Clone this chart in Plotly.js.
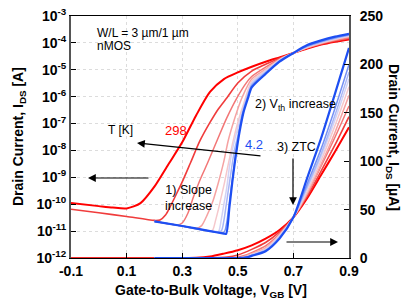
<!DOCTYPE html>
<html><head><meta charset="utf-8">
<script src="https://cdn.plot.ly/plotly-3.0.1.min.js"></script>
<style>html,body{margin:0;padding:0;background:#fff}#c{width:415px;height:307px}</style>
</head><body><div id="c"></div>
<script>
// Temperatures [K]
const temps = ['298','200','150','100','77','50','25','10','4.2'];
// Gate voltage [V] and drain current [A] per temperature
const V298 = [-0.1,0,0.05,0.1,0.15,0.2,0.25,0.3,0.35,0.4,0.45,0.5,0.55,0.6,0.65,0.7,0.75,0.8,0.85,0.9];
const I298 = [1.1e-10,8.5e-11,7.5e-11,7e-11,1.1e-10,4.5e-10,3e-9,2e-8,2e-7,1.5e-6,4.5e-6,8e-6,1.3e-5,2e-5,2.9e-5,4.2e-5,6.2e-5,8.6e-5,1.1e-4,1.35e-4];
const V200 = [-0.1,0,0.1,0.2,0.22,0.24,0.256,0.28,0.303,0.33,0.364,0.4,0.43,0.461,0.5,0.55,0.6,0.65,0.7,0.75,0.8,0.85,0.9];
const I200 = [6.5e-11,4.8e-11,3.5e-11,2.5e-11,2.6e-11,4e-11,7.8e-11,2.5e-10,7.9e-10,3.5e-9,2.3e-8,1.1e-7,3.5e-7,9.1e-7,3.2e-6,8.9e-6,1.6e-5,2.7e-5,4.2e-5,6.4e-5,9e-5,1.17e-4,1.46e-4];
const V150 = [0.2,0.28,0.3,0.32,0.34,0.364,0.39,0.425,0.46,0.497,0.53,0.55,0.6,0.65,0.7,0.75,0.8,0.85,0.9];
const I150 = [2.3e-11,1.7e-11,2e-11,4.5e-11,1.8e-10,8e-10,3.2e-9,2.3e-8,1.6e-7,9.1e-7,3.2e-6,5.6e-6,1.25e-5,2.5e-5,4.2e-5,6.6e-5,9.5e-5,1.25e-4,1.57e-4];
const V100 = [0.2,0.3,0.35,0.37,0.39,0.41,0.43,0.45,0.465,0.48,0.5,0.515,0.55,0.6,0.65,0.7,0.75,0.8,0.85,0.9];
const I100 = [2.3e-11,1.55e-11,1.26e-11,1.6e-11,4e-11,1.26e-10,6.3e-10,4e-9,2.2e-8,7.9e-8,3.5e-7,9.1e-7,4.5e-6,1.05e-5,2.4e-5,4.2e-5,6.7e-5,9.7e-5,1.3e-4,1.68e-4];
const V77 = [0.2,0.3,0.4,0.41,0.42,0.43,0.44,0.45,0.46,0.47,0.48,0.5,0.52,0.55,0.6,0.65,0.7,0.75,0.8,0.85,0.9];
const I77 = [2.3e-11,1.55e-11,1.0e-11,1.1e-11,2.5e-11,6.3e-11,1.8e-10,5e-10,1.6e-9,5e-9,1.6e-8,1.1e-7,5e-7,3.8e-6,9.5e-6,2.35e-5,4.2e-5,6.9e-5,1.01e-4,1.37e-4,1.77e-4];
const V50 = [0.2,0.3,0.4,0.43,0.44,0.45,0.46,0.47,0.48,0.49,0.5,0.52,0.53,0.55,0.6,0.65,0.7,0.75,0.8,0.85,0.9];
const I50 = [2.3e-11,1.55e-11,1.0e-11,9.5e-12,2.5e-11,1e-10,4e-10,2.5e-9,1e-8,2.8e-8,7e-8,4e-7,8e-7,3.2e-6,8.7e-6,2.25e-5,4.2e-5,7.2e-5,1.05e-4,1.43e-4,1.85e-4];
const V25 = [0.2,0.3,0.4,0.44,0.45,0.46,0.47,0.48,0.49,0.5,0.52,0.535,0.55,0.6,0.65,0.7,0.75,0.8,0.85,0.9];
const I25 = [2.3e-11,1.55e-11,1.0e-11,1.0e-11,2.5e-11,1.26e-10,6.3e-10,3.2e-9,1.26e-8,3.5e-8,3.5e-7,1.07e-6,2.8e-6,8e-6,2.15e-5,4.2e-5,7.4e-5,1.08e-4,1.48e-4,1.92e-4];
const V10 = [0.2,0.3,0.4,0.45,0.46,0.47,0.48,0.49,0.5,0.51,0.52,0.535,0.55,0.6,0.65,0.7,0.75,0.8,0.85,0.9];
const I10 = [2.3e-11,1.55e-11,1.0e-11,8.9e-12,2e-11,1.26e-10,7.9e-10,5e-9,2.5e-8,1e-7,2.8e-7,9.1e-7,2.5e-6,7.5e-6,2.1e-5,4.2e-5,7.7e-5,1.13e-4,1.55e-4,2.0e-4];
const V42 = [0.2,0.3,0.4,0.45,0.458,0.47,0.48,0.49,0.5,0.51,0.52,0.537,0.55,0.6,0.65,0.7,0.75,0.8,0.85,0.9];
const I42 = [2.3e-11,1.55e-11,1.0e-11,8.1e-12,7.9e-12,7.9e-11,6.3e-10,4e-9,2e-8,7.9e-8,2.5e-7,9e-7,2.2e-6,7e-6,2e-5,4.2e-5,8.3e-5,1.24e-4,1.7e-4,2.17e-4];
// axis ticks
const xTicks = [-0.1,0.1,0.3,0.5,0.7,0.9];
const yLogTicks = [1e-12,1e-11,1e-10,1e-9,1e-8,1e-7,1e-6,1e-5,1e-4,1e-3];
const yLogLabels = ['-12','-11','-10','-9','-8','-7','-6','-5','-4','-3'];
const yLinTicks = [0,50,100,150,200,250];

const Vs = [V298,V200,V150,V100,V77,V50,V25,V10,V42];
const Is = [I298,I200,I150,I100,I77,I50,I25,I10,I42];
const colors = ['#ff0000','#f03c3c','#f27676','#f5a2a2','#f5c8cc','#d2d2f4','#a8b6f6','#7590f4','#1d4ef2'];
const widths = [2,1.6,1.5,1.5,1.5,1.5,1.5,1.5,2.2];

const traces = [];
for (let k=0;k<temps.length;k++){
  traces.push({x:Vs[k], y:Is[k], xaxis:'x', yaxis:'y', mode:'lines', name:temps[k]+' K',
    line:{color:colors[k], width:widths[k], shape:'spline', smoothing:0.7}, hoverinfo:'skip'});
}
for (let k=0;k<temps.length;k++){
  traces.push({x:Vs[k], y:Is[k].map(v=>v*1e6), xaxis:'x', yaxis:'y2', mode:'lines', name:temps[k]+' K lin',
    line:{color:colors[k], width:widths[k], shape:'spline', smoothing:0.7}, hoverinfo:'skip'});
}

const L=71,R=349,T=16,B=258;
const px = x => (x-L)/(R-L);
const py = y => (B-y)/(B-T);
const F = 'Liberation Sans, Arial, sans-serif';
function txt(t,x,y,opts){
  return Object.assign({text:t, xref:'paper', yref:'paper', x:px(x), y:py(y), showarrow:false,
    xanchor:'center', yanchor:'middle', font:{family:F,size:12,color:'#000'}}, opts||{});
}
function arr(hx,hy,tx,ty){
  return {text:'', xref:'paper', yref:'paper', x:px(hx), y:py(hy), ax:tx-hx, ay:ty-hy,
    showarrow:true, arrowhead:2, arrowsize:1.3, arrowwidth:1.2, arrowcolor:'#000', standoff:0, startstandoff:0};
}
const annotations = [
  txt('W/L = 3 µm/1 µm',95,33,{xanchor:'left'}),
  txt('nMOS',95,46,{xanchor:'left'}),
  txt('T [K]',120,130,{font:{family:F,size:12,color:'#000'}}),
  txt('298',176,130,{font:{family:F,size:13,color:'#ff0000'}}),
  txt('4.2',254,144,{font:{family:F,size:13,color:'#1d4ef2'}}),
  txt('1) Slope<br>increase',188,198,{font:{family:F,size:12.5,color:'#000'}}),
  txt('2) V<sub>th</sub> increase',253,105,{xanchor:'left',font:{family:F,size:12.5,color:'#000'}}),
  txt('3) ZTC',296,147,{font:{family:F,size:12.5,color:'#000'}}),
  arr(137,143,262,156),
  arr(88,178,150,178),
  arr(338,242,285,242),
  arr(293,205,293,157),
  txt('<b>Drain Current, I<sub>DS</sub> [A]</b>',19,137,{textangle:-90,font:{family:F,size:14,color:'#000'}}),
  txt('<b>Drain Current, I<sub>DS</sub> [µA]</b>',393,137,{textangle:90,font:{family:F,size:14,color:'#000'}}),
  txt('<b>Gate-to-Bulk Voltage, V<sub>GB</sub> [V]</b>',211,291,{font:{family:F,size:14,color:'#000'}})
];

const tickfont = {family:F, size:14, color:'#000', weight:'bold'};
const layout = {
  width:415, height:307, margin:{l:L, r:415-R, t:T, b:307-B, pad:0},
  paper_bgcolor:'#fff', plot_bgcolor:'#fff', showlegend:false,
  font:{family:F},
  xaxis:{range:[-0.1,0.9], tickvals:xTicks, ticktext:xTicks.map(v=>v.toFixed(1)), ticks:'inside', ticklen:5,
    tickcolor:'#000', tickwidth:1, showline:true, linecolor:'#000', linewidth:1, mirror:true,
    showgrid:true, gridcolor:'#dcdcdc', griddash:'dot', gridwidth:1, zeroline:false, tickfont:tickfont, fixedrange:true},
  yaxis:{type:'log', range:[-12,-3], tickvals:yLogTicks, ticktext:yLogLabels.map(e=>'10<sup>'+e+'</sup>'),
    ticks:'inside', ticklen:5, tickcolor:'#000', showline:true, linecolor:'#555', linewidth:2,
    showgrid:true, gridcolor:'#dcdcdc', griddash:'dot', gridwidth:1, zeroline:false, tickfont:tickfont, fixedrange:true},
  yaxis2:{overlaying:'y', side:'right', range:[0,250], tickvals:yLinTicks, ticks:'inside', ticklen:5, tickcolor:'#000',
    showline:true, linecolor:'#555', linewidth:2, showgrid:false, zeroline:false, tickfont:tickfont,
    ticklabelstandoff:6, fixedrange:true},
  annotations:annotations
};
Plotly.newPlot('c', traces, layout, {staticPlot:true, displayModeBar:false});
</script></body></html>
